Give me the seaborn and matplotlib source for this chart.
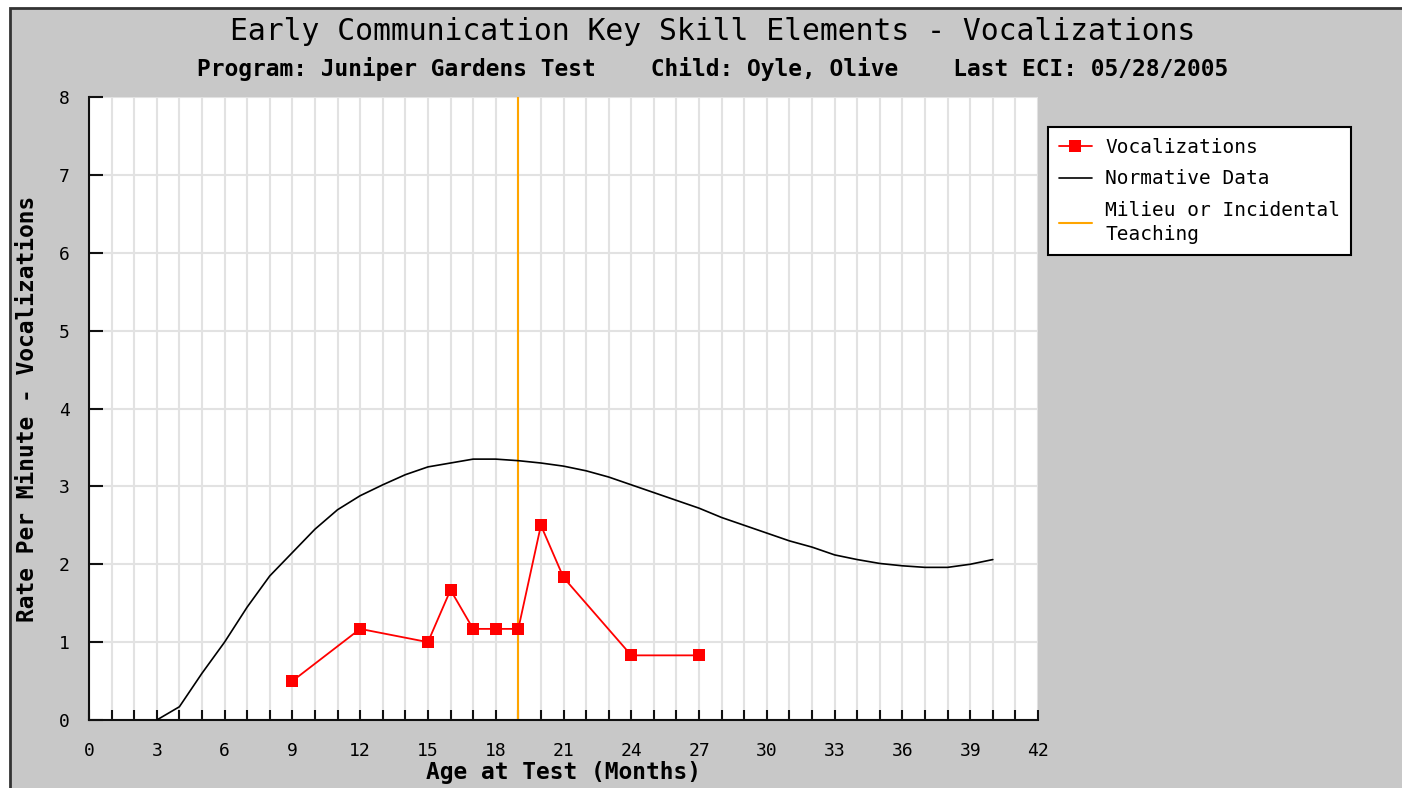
import numpy as np
import matplotlib
matplotlib.use("Agg")
import matplotlib.pyplot as plt
import matplotlib.patches as mpatches
from matplotlib.ticker import MultipleLocator
import seaborn as sns

# Vocalizations observed for the child
voc_months = [9, 12, 15, 16, 17, 18, 19, 20, 21, 24, 27]
voc_rate = [0.5, 1.17, 1.0, 1.67, 1.17, 1.17, 1.17, 2.5, 1.83, 0.83, 0.83]

# Normative curve (one point per month)
norm_months = list(range(3, 41))
norm_rate = [0.0, 0.17, 0.6, 1.0, 1.45, 1.85, 2.15, 2.45, 2.7, 2.88,
             3.02, 3.15, 3.25, 3.3, 3.35, 3.35, 3.33, 3.3, 3.26, 3.2,
             3.12, 3.02, 2.92, 2.82, 2.72, 2.6, 2.5, 2.4, 2.3, 2.22,
             2.12, 2.06, 2.01, 1.98, 1.96, 1.96, 2.0, 2.06]

teaching_month = 19

title = "Early Communication Key Skill Elements - Vocalizations"
subtitle = "Program: Juniper Gardens Test    Child: Oyle, Olive    Last ECI: 05/28/2005"

sns.set_style("white")
plt.rcParams['font.family'] = ['DejaVu Sans Mono']
plt.rcParams['text.color'] = 'black'
plt.rcParams['axes.labelcolor'] = 'black'

W, H = 1402, 788
fig = plt.figure(figsize=(W / 100, H / 100), dpi=100)
fig.patch.set_facecolor('white')

# gray panel with dark border on left/top
panel = mpatches.Rectangle((10 / W, -0.05), 1.1, 1 - 8 / H + 0.05,
                           transform=fig.transFigure, facecolor='#c8c8c8',
                           edgecolor='#333333', lw=2, zorder=-10)
fig.add_artist(panel)

ax = fig.add_axes([89 / W, 68 / H, (1038 - 89) / W, (720 - 97) / H])
ax.set_facecolor('white')

sns.lineplot(x=norm_months, y=norm_rate, color='black', lw=1.2,
             ax=ax, label='Normative Data', zorder=3)
sns.lineplot(x=voc_months, y=voc_rate, color='#ff0000', lw=1.3,
             marker='s', markersize=9, markeredgewidth=0,
             ax=ax, label='Vocalizations', zorder=4)
ax.axvline(teaching_month, color='#ffa500', lw=1.5,
           label='Milieu or Incidental\nTeaching', zorder=2)

ax.set_xlim(0, 42)
ax.set_ylim(0, 8)
ax.xaxis.set_major_locator(MultipleLocator(3))
ax.xaxis.set_minor_locator(MultipleLocator(1))
ax.yaxis.set_major_locator(MultipleLocator(1))

ax.grid(True, which='both', color='#e2e2e2', lw=1.5)
ax.set_axisbelow(True)

for s in ['top', 'right']:
    ax.spines[s].set_visible(False)
for s in ['left', 'bottom']:
    ax.spines[s].set_color('#111111')
    ax.spines[s].set_linewidth(1.5)

ax.tick_params(axis='x', which='both', direction='in', length=7, width=1.5,
               pad=16, labelsize=13, color='#111111', labelcolor='black',
               bottom=True, top=False)
ax.tick_params(axis='y', which='both', direction='in', length=10, width=1.5,
               pad=14, labelsize=13, color='#111111', labelcolor='black',
               left=True, right=False)

ax.set_xlabel('Age at Test (Months)', fontsize=16.5, fontweight='bold', labelpad=0)
ax.xaxis.set_label_coords(0.5, (720 - 772) / (720 - 97))
ax.xaxis.label.set_va('center')
ax.set_ylabel('Rate Per Minute - Vocalizations', fontsize=16.5, fontweight='bold')
ax.yaxis.set_label_coords((28 - 89) / (1038 - 89), 0.5)
ax.yaxis.label.set_va('center')

fig.text(0.508, 1 - 32 / H, title, ha='center', va='center', fontsize=21.4)
fig.text(0.508, 1 - 69 / H, subtitle, ha='center', va='center',
         fontsize=16.5, fontweight='bold')

handles, labels = ax.get_legend_handles_labels()
order = [labels.index('Vocalizations'), labels.index('Normative Data'),
         labels.index('Milieu or Incidental\nTeaching')]
leg = ax.legend([handles[i] for i in order], [labels[i] for i in order],
                loc='upper left', bbox_to_anchor=(1048 / W, 1 - 127 / H),
                bbox_transform=fig.transFigure, borderaxespad=0, fontsize=14,
                frameon=True, fancybox=False, framealpha=1, edgecolor='black',
                handlelength=1.7, handletextpad=0.7, labelspacing=0.65,
                borderpad=0.55)
leg.get_frame().set_linewidth(1.5)
for t in leg.get_texts():
    t.set_linespacing(1.35)

fig.savefig('out.png', dpi=100)
